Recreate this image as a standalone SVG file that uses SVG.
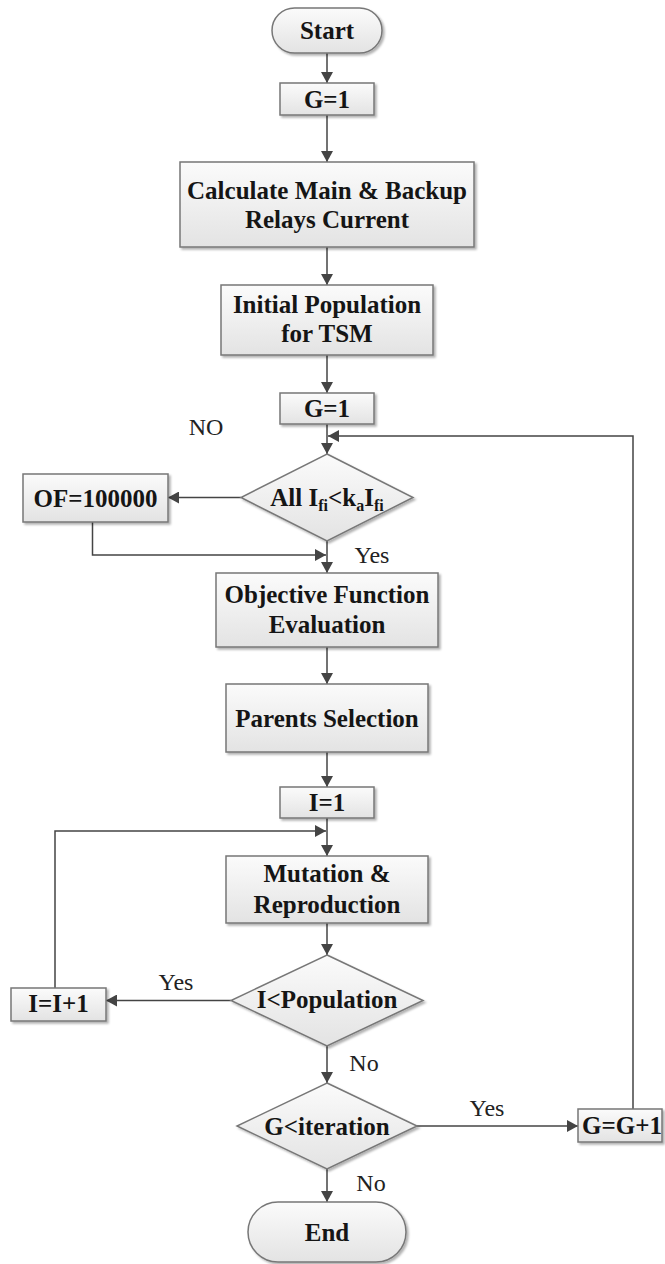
<svg xmlns="http://www.w3.org/2000/svg" width="665" height="1264" viewBox="0 0 665 1264">
<defs>
<linearGradient id="g" x1="0" y1="0" x2="0" y2="1">
<stop offset="0" stop-color="#fbfbfb"/>
<stop offset="1" stop-color="#e3e3e3"/>
</linearGradient>
<filter id="sh" x="-10%" y="-10%" width="125%" height="130%">
<feDropShadow dx="2" dy="2" stdDeviation="1.2" flood-color="#000" flood-opacity="0.3"/>
</filter>
<marker id="ar" markerUnits="userSpaceOnUse" markerWidth="12" markerHeight="12" refX="11" refY="6" orient="auto">
<path d="M0,0 L11,6 L0,12 Z" fill="#444"/>
</marker>
</defs>
<style>
.n{fill:url(#g);stroke:#777;stroke-width:1.5;filter:url(#sh)}
.t{font-family:"Liberation Serif","Times New Roman",serif;font-weight:bold;font-size:25px;fill:#151515;text-anchor:middle}
.l{font-family:"Liberation Serif","Times New Roman",serif;font-size:24px;fill:#222;text-anchor:middle}
.c{fill:none;stroke:#444;stroke-width:1.5}
.a{marker-end:url(#ar)}
</style>
<rect width="665" height="1264" fill="#fff"/>
<g id="connectors">
<path class="c a" d="M327,53 V83"/>
<path class="c a" d="M327,115 V162"/>
<path class="c a" d="M327,247 V285"/>
<path class="c a" d="M327,355 V393"/>
<path class="c a" d="M327,424 V454"/>
<path class="c a" d="M633,1109 V436 H328"/>
<path class="c a" d="M241,497.5 H168"/>
<path class="c a" d="M92.5,522 V555 H326"/>
<path class="c a" d="M327,541 V573"/>
<path class="c a" d="M327,647 V684"/>
<path class="c a" d="M327,752 V787"/>
<path class="c a" d="M327,818 V856"/>
<path class="c a" d="M55,988 V831 H326"/>
<path class="c a" d="M327,923 V955"/>
<path class="c a" d="M231,1000.5 H106"/>
<path class="c a" d="M327,1046 V1083"/>
<path class="c a" d="M417,1126 H578"/>
<path class="c a" d="M327,1169 V1202"/>
</g>
<g id="labels">
<text class="l" x="206" y="435">NO</text>
<text class="l" x="372" y="563">Yes</text>
<text class="l" x="176" y="990">Yes</text>
<text class="l" x="364" y="1071">No</text>
<text class="l" x="487" y="1116">Yes</text>
<text class="l" x="371" y="1191">No</text>
</g>
<g id="start"><rect class="n" x="272" y="8" width="110" height="45" rx="22.5"/><text class="t" x="327" y="39">Start</text></g>
<g id="g1a"><rect class="n" x="280" y="83" width="94" height="32"/><text class="t" x="327" y="108">G=1</text></g>
<g id="calc"><rect class="n" x="180" y="162" width="294" height="85"/><text class="t" x="327" y="199">Calculate Main &amp; Backup</text><text class="t" x="327" y="228">Relays Current</text></g>
<g id="init"><rect class="n" x="221" y="285" width="212" height="70"/><text class="t" x="327" y="313">Initial Population</text><text class="t" x="327" y="342">for TSM</text></g>
<g id="g1b"><rect class="n" x="280" y="393" width="94" height="31"/><text class="t" x="327" y="417">G=1</text></g>
<g id="check"><polygon class="n" points="327,454 413,497.5 327,541 241,497.5"/><text class="t" x="327" y="506">All I<tspan font-size="16" dy="5">fi</tspan><tspan dy="-5">&lt;k</tspan><tspan font-size="16" dy="5">a</tspan><tspan dy="-5">I</tspan><tspan font-size="16" dy="5">fi</tspan></text></g>
<g id="of"><rect class="n" x="23" y="474" width="145" height="48"/><text class="t" x="95.5" y="507">OF=100000</text></g>
<g id="obj"><rect class="n" x="216" y="573" width="222" height="74"/><text class="t" x="327" y="603">Objective Function</text><text class="t" x="327" y="633">Evaluation</text></g>
<g id="parents"><rect class="n" x="226" y="684" width="202" height="68"/><text class="t" x="327" y="727">Parents Selection</text></g>
<g id="i1"><rect class="n" x="280" y="787" width="94" height="31"/><text class="t" x="327" y="811">I=1</text></g>
<g id="mut"><rect class="n" x="226" y="856" width="202" height="67"/><text class="t" x="327" y="882">Mutation &amp;</text><text class="t" x="327" y="913">Reproduction</text></g>
<g id="ipop"><polygon class="n" points="327,955 423,1000.5 327,1046 231,1000.5"/><text class="t" x="327" y="1008">I&lt;Population</text></g>
<g id="inc"><rect class="n" x="11" y="988" width="95" height="33"/><text class="t" x="58.5" y="1012">I=I+1</text></g>
<g id="giter"><polygon class="n" points="327,1083 417,1126 327,1169 237,1126"/><text class="t" x="327" y="1135">G&lt;iteration</text></g>
<g id="ginc"><rect class="n" x="578" y="1109" width="84" height="33"/><text class="t" x="622" y="1134">G=G+1</text></g>
<g id="end"><rect class="n" x="248" y="1202" width="158" height="60" rx="30"/><text class="t" x="327" y="1241">End</text></g>
</svg>
